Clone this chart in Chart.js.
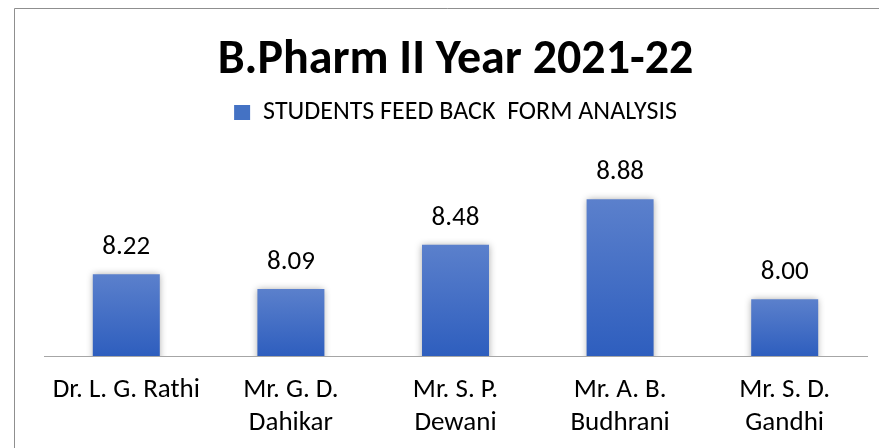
<!DOCTYPE html>
<html>
<head>
<meta charset="utf-8">
<script src="https://cdn.jsdelivr.net/npm/chart.js@4"></script>
<style>
html,body{margin:0;padding:0;background:#fff;}
#wrap{position:relative;width:879px;height:448px;}
</style>
</head>
<body>
<div id="wrap"><canvas id="c" width="879" height="448"></canvas></div>
<script>
const chartTitle = 'B.Pharm II Year 2021-22';
const seriesName = 'STUDENTS FEED BACK  FORM ANALYSIS';
const categories = [
  'Dr. L. G. Rathi',
  ['Mr. G. D.', 'Dahikar'],
  ['Mr. S. P.', 'Dewani'],
  ['Mr. A. B.', 'Budhrani'],
  ['Mr. S. D.', 'Gandhi']
];
const scores = [8.22, 8.09, 8.48, 8.88, 8.00];
const yMin = 7.5;
const yMax = 9.44;

const FONT = 'Carlito, Lato, "Liberation Sans", sans-serif';

function barGradient(ctx) {
  const chart = ctx.chart;
  const ys = chart.scales && chart.scales.y;
  if (!ys || !chart.chartArea || ctx.raw === undefined) return '#4472C4';
  const top = ys.getPixelForValue(ctx.raw);
  const bottom = ys.getPixelForValue(yMin);
  const g = chart.ctx.createLinearGradient(0, top, 0, bottom);
  g.addColorStop(0, '#5B80CC');
  g.addColorStop(1, '#2E5EBE');
  return g;
}

const framePlugin = {
  id: 'frame',
  beforeDraw(chart) {
    const c = chart.ctx;
    c.save();
    c.strokeStyle = '#8F8F8F';
    c.lineWidth = 1;
    c.beginPath();
    c.moveTo(14.5, 460);
    c.lineTo(14.5, 8.5);
    c.lineTo(900, 8.5);
    c.stroke();
    c.restore();
  }
};

const shadowPlugin = {
  id: 'barShadow',
  beforeDatasetDraw(chart) {
    const c = chart.ctx;
    c.save();
    c.shadowColor = 'rgba(0,0,0,0.35)';
    c.shadowBlur = 7;
    c.shadowOffsetX = 0;
    c.shadowOffsetY = 0;
  },
  afterDatasetDraw(chart) {
    chart.ctx.restore();
  }
};

const valueLabels = {
  id: 'valueLabels',
  afterDatasetsDraw(chart) {
    const c = chart.ctx;
    const meta = chart.getDatasetMeta(0);
    c.save();
    c.fillStyle = '#000';
    c.font = '27px ' + FONT;
    c.textAlign = 'center';
    c.textBaseline = 'alphabetic';
    meta.data.forEach((bar, i) => {
      c.fillText(scores[i].toFixed(2), bar.x, bar.y - 20);
    });
    c.restore();
  }
};

new Chart(document.getElementById('c'), {
  type: 'bar',
  data: {
    labels: categories,
    datasets: [{
      label: seriesName,
      data: scores,
      backgroundColor: barGradient,
      borderWidth: 0,
      barPercentage: 0.407,
      categoryPercentage: 1.0
    }]
  },
  options: {
    responsive: false,
    animation: false,
    devicePixelRatio: 1,
    layout: { padding: { top: 32, left: 44, right: 12, bottom: -10 } },
    plugins: {
      title: {
        display: true,
        text: chartTitle,
        color: '#000',
        font: { family: FONT, size: 48, weight: 'bold' },
        padding: { top: 0, bottom: 0 }
      },
      legend: {
        display: true,
        position: 'top',
        labels: {
          color: '#000',
          font: { family: FONT, size: 26 },
          boxWidth: 16,
          boxHeight: 15,
          padding: 10,
          generateLabels(chart) {
            return [{
              text: seriesName,
              fillStyle: '#4472C4',
              strokeStyle: '#4472C4',
              lineWidth: 0,
              datasetIndex: 0,
              fontColor: '#000'
            }];
          }
        }
      },
      tooltip: { enabled: false }
    },
    scales: {
      x: {
        grid: { display: false, drawTicks: false },
        border: { display: true, color: '#A6A6A6', width: 1 },
        ticks: {
          color: '#000',
          font: { family: FONT, size: 27, lineHeight: 1.222 },
          padding: 18,
          maxRotation: 0,
          autoSkip: false
        }
      },
      y: {
        display: false,
        min: yMin,
        max: yMax
      }
    }
  },
  plugins: [framePlugin, shadowPlugin, valueLabels]
});
</script>
</body>
</html>
